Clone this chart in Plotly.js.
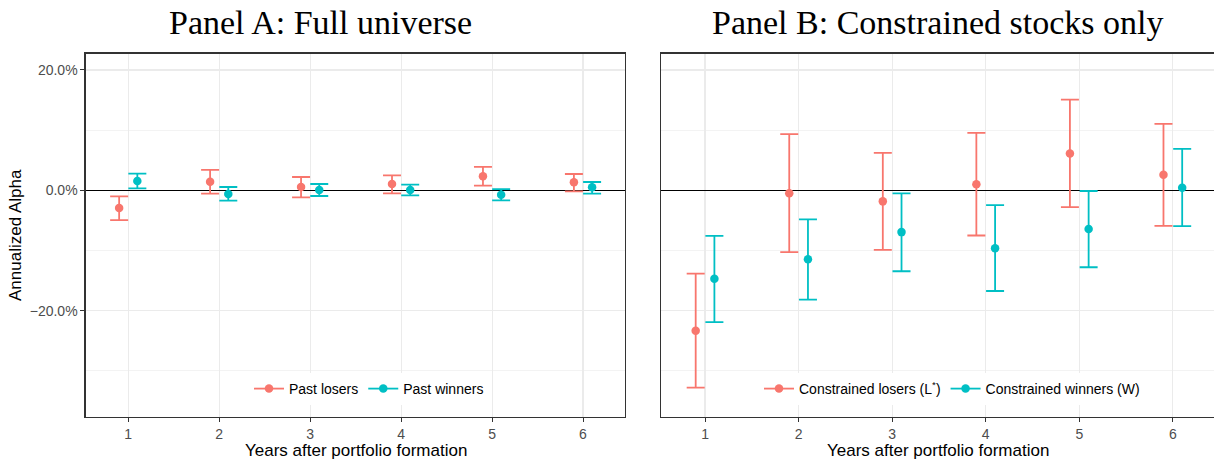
<!DOCTYPE html>
<html>
<head>
<meta charset="utf-8">
<script src="https://cdn.plot.ly/plotly-3.0.1.min.js"></script>
<style>html,body{margin:0;padding:0;background:#fff}#chart{width:1214px;height:462px}</style>
</head>
<body>
<div id="chart"></div>
<script>
// Years after portfolio formation
const years = [1, 2, 3, 4, 5, 6];

// Panel A: Full universe (annualized alpha, %)
const pastLosers      = [-2.94, 1.44, 0.56, 1.06, 2.33, 1.33];
const pastLosersLo    = [-4.94, -0.56, -1.17, -0.50, 0.78, -0.17];
const pastLosersHi    = [-1.00, 3.39, 2.22, 2.50, 3.89, 2.72];
const pastWinners     = [1.56, -0.61, 0.06, 0.06, -0.72, 0.50];
const pastWinnersLo   = [0.33, -1.72, -0.94, -0.83, -1.67, -0.56];
const pastWinnersHi   = [2.78, 0.56, 1.06, 0.94, 0.22, 1.39];

// Panel B: Constrained stocks only (annualized alpha, %)
const conLosers       = [-23.33, -0.50, -1.83, 1.00, 6.11, 2.61];
const conLosersLo     = [-32.78, -10.28, -9.89, -7.50, -2.78, -5.89];
const conLosersHi     = [-13.83, 9.33, 6.22, 9.56, 15.06, 11.06];
const conWinners      = [-14.67, -11.44, -6.94, -9.61, -6.44, 0.44];
const conWinnersLo    = [-21.89, -18.17, -13.44, -16.72, -12.78, -5.94];
const conWinnersHi    = [-7.56, -4.83, -0.50, -2.44, -0.11, 6.89];

const seriesNames = {
  pastLosers: 'Past losers',
  pastWinners: 'Past winners',
  conLosers: 'Constrained losers (L<sup>*</sup>)',
  conWinners: 'Constrained winners (W)'
};
const titles = ['Panel A: Full universe', 'Panel B: Constrained stocks only'];
const xTitle = 'Years after portfolio formation';
const yTitle = 'Annualized Alpha';

const RED = '#F8766D', CYAN = '#00BFC4';
const dodge = 0.1;

function errTrace(vals, lo, hi, shift, color, xa, ya) {
  return {
    type: 'scatter', mode: 'markers',
    x: years.map(v => v + shift), y: vals,
    xaxis: xa, yaxis: ya, showlegend: false, hoverinfo: 'skip',
    marker: {color: color, size: 8.5},
    error_y: {type: 'data', symmetric: false,
      array: hi.map((h, i) => h - vals[i]),
      arrayminus: lo.map((l, i) => vals[i] - l),
      color: color, thickness: 1.8, width: 9}
  };
}
function legTrace(name, color, legend) {
  return {type: 'scatter', mode: 'lines+markers', x: [null], y: [null],
    name: name, legend: legend, xaxis: 'x', yaxis: 'y',
    line: {color: color, width: 1.8}, marker: {color: color, size: 8.5}};
}

const data = [
  errTrace(pastLosers, pastLosersLo, pastLosersHi, -dodge, RED, 'x', 'y'),
  errTrace(pastWinners, pastWinnersLo, pastWinnersHi, dodge, CYAN, 'x', 'y'),
  errTrace(conLosers, conLosersLo, conLosersHi, -dodge, RED, 'x2', 'y2'),
  errTrace(conWinners, conWinnersLo, conWinnersHi, dodge, CYAN, 'x2', 'y2'),
  legTrace(seriesNames.pastLosers, RED, 'legend'),
  legTrace(seriesNames.pastWinners, CYAN, 'legend'),
  legTrace(seriesNames.conLosers, RED, 'legend2'),
  legTrace(seriesNames.conWinners, CYAN, 'legend2')
];

const W = 1214, H = 462;
const sans = 'Liberation Sans, Arial, sans-serif';
const grid = '#EBEBEB';
const yDomain = [1 - 416.7 / H, 1 - 53.5 / H];
const yRange = [-37.61, 22.74];

function yAxis(showLabels, anchor) {
  return {
    domain: yDomain, range: yRange, anchor: anchor,
    tickmode: 'linear', tick0: 0, dtick: 20,
    ticksuffix: '%', tickformat: '.1f',
    showticklabels: showLabels, ticks: showLabels ? 'outside' : '',
    ticklen: 4, tickwidth: 1, tickcolor: '#333333',
    tickfont: {family: sans, size: 14, color: '#4D4D4D'},
    showgrid: true, gridcolor: grid, gridwidth: 1.1,
    minor: {dtick: 10, tick0: 0, showgrid: true, gridcolor: grid, gridwidth: 0.6, ticks: ''},
    zeroline: true, zerolinecolor: '#000000', zerolinewidth: 1.5,
    showline: true, linecolor: '#333333', linewidth: 1.1,
    mirror: showLabels ? true : false, fixedrange: true
  };
}
function xAxis(domain, range, anchor) {
  return {
    domain: domain, range: range, anchor: anchor,
    tickmode: 'array', tickvals: years, ticktext: years.map(String),
    ticks: 'outside', ticklen: 4, tickwidth: 1, tickcolor: '#333333',
    tickfont: {family: sans, size: 14, color: '#4D4D4D'},
    showgrid: true, gridcolor: grid, gridwidth: 1.1,
    zeroline: false, showline: true, linecolor: '#333333', linewidth: 1.1,
    mirror: true, fixedrange: true
  };
}

const layout = {
  width: W, height: H,
  margin: {l: 0, r: 0, t: 0, b: 0},
  paper_bgcolor: '#ffffff', plot_bgcolor: '#ffffff',
  showlegend: true,
  xaxis: xAxis([85.5 / W, 625.3 / W], [0.53, 6.465], 'y'),
  yaxis: yAxis(true, 'x'),
  xaxis2: xAxis([660.7 / W, 1], [0.526, 6.44], 'y2'),
  yaxis2: yAxis(false, 'x2'),
  legend: {orientation: 'h', x: 369 / W, y: 1 - 389 / H, xanchor: 'center', yanchor: 'middle',
    bgcolor: '#ffffff', borderwidth: 0, font: {family: sans, size: 14, color: '#000'},
    itemwidth: 30, tracegroupgap: 0},
  legend2: {orientation: 'h', x: 952 / W, y: 1 - 389 / H, xanchor: 'center', yanchor: 'middle',
    bgcolor: '#ffffff', borderwidth: 0, font: {family: sans, size: 14, color: '#000'},
    itemwidth: 30, tracegroupgap: 0},
  annotations: [
    {text: titles[0], x: 320 / W, y: 1 - 22 / H, xref: 'paper', yref: 'paper',
     xanchor: 'center', yanchor: 'middle', showarrow: false,
     font: {family: 'Liberation Serif, serif', size: 34, color: '#000'}},
    {text: titles[1], x: 937.7 / W, y: 1 - 22 / H, xref: 'paper', yref: 'paper',
     xanchor: 'center', yanchor: 'middle', showarrow: false,
     font: {family: 'Liberation Serif, serif', size: 34, color: '#000'}},
    {text: xTitle, x: 355.5 / W, y: 1 - 450 / H, xref: 'paper', yref: 'paper',
     xanchor: 'center', yanchor: 'middle', showarrow: false,
     font: {family: sans, size: 17, color: '#000'}},
    {text: xTitle, x: 938 / W, y: 1 - 450 / H, xref: 'paper', yref: 'paper',
     xanchor: 'center', yanchor: 'middle', showarrow: false,
     font: {family: sans, size: 17, color: '#000'}},
    {text: yTitle, x: 15 / W, y: 1 - 235 / H, xref: 'paper', yref: 'paper',
     xanchor: 'center', yanchor: 'middle', showarrow: false, textangle: -90,
     font: {family: sans, size: 17, color: '#000'}}
  ]
};

Plotly.newPlot('chart', data, layout, {staticPlot: true, displayModeBar: false});
</script>
</body>
</html>
